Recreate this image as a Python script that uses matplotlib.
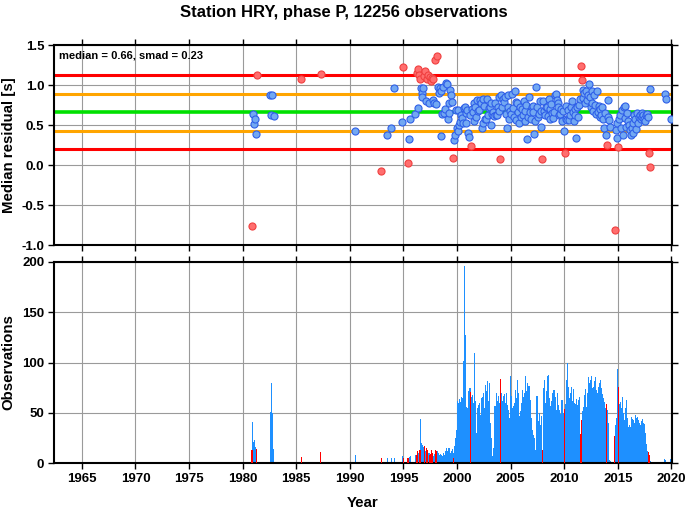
import numpy as np
import matplotlib
matplotlib.use("Agg")
import matplotlib.pyplot as plt
from matplotlib.ticker import FormatStrFormatter

plt.rcParams["font.family"] = ["Liberation Sans", "DejaVu Sans"]
plt.rcParams["font.weight"] = "bold"

station, phase, n_obs = "HRY", "P", 12256
median, smad = 0.66, 0.23
flag_lo, flag_hi = 0.28, 1.035   # bins drawn red outside this band

nan = np.nan

# sparse early bins: decimal year, median residual, number of picks
early_year = [1980.87, 1980.96, 1981.04, 1981.12, 1981.21, 1981.30,
              1982.58, 1982.67, 1982.75, 1982.88, 1985.47, 1987.27,
              1990.50, 1992.93, 1993.51, 1993.85, 1994.16, 1994.88,
              1994.98, 1995.42, 1995.53, 1995.62, 1996.12, 1996.23,
              1996.31, 1996.39, 1996.48, 1996.56, 1996.62, 1996.70,
              1996.77, 1996.85, 1996.92, 1997.00, 1997.08, 1997.16,
              1997.27, 1997.38, 1997.47, 1997.55, 1997.63, 1997.71,
              1997.80, 1997.89, 1997.98, 1998.06, 1998.12, 1998.20,
              1998.29, 1998.38, 1998.46, 1998.54, 1998.63, 1998.71,
              1998.79, 1998.88, 1998.96]
early_resid = [-0.76, 0.64, 0.51, 0.57, 0.39, 1.13,
               0.87, 0.63, 0.88, 0.61, 1.07, 1.14,
               0.42, -0.08, 0.37, 0.46, 0.96, 0.54,
               1.22, 0.03, 0.33, 0.58, 0.64, 1.15,
               1.20, 0.71, 1.13, 1.07, 0.96, 0.90,
               0.85, 0.96, 1.11, 1.17, 0.80, 1.08,
               1.12, 0.78, 1.10, 1.05, 1.09, 1.07,
               0.81, 0.78, 1.31, 0.76, 1.36, 0.98,
               0.90, 0.96, 0.36, 0.92, 0.64, 0.98,
               0.65, 0.70, 1.02]
early_count = [13, 41, 21, 23, 16, 14,
               51, 80, 50, 14, 6, 11,
               8, 5, 5, 5, 5, 7,
               5, 5, 6, 7, 8, 8,
               12, 10, 13, 13, 44, 20,
               18, 16, 17, 16, 12, 15,
               13, 10, 8, 9, 13, 10,
               7, 9, 13, 10, 12, 12,
               10, 8, 9, 8, 7, 10,
               8, 10, 12]

# monthly bins from 1999 on, one row per year
monthly_first_year = 1999
monthly_resid = [
    [1.01, 0.58, 0.65, 0.77, 0.94, 0.87, 0.79, 0.09, 0.31, 0.38, 0.69, 0.46],
    [0.42, 0.69, 0.50, 0.54, 0.63, 0.59, 0.53, 0.71, 0.73, 0.65, 0.52, 0.69],
    [0.40, 0.35, 0.62, 0.24, 0.70, 0.66, 0.55, 0.78, 0.73, 0.60, 0.81, 0.68],
    [0.69, 0.81, 0.77, 0.46, 0.82, 0.53, 0.74, 0.57, 0.58, 0.83, 0.62, 0.71],
    [0.73, 0.50, 0.77, 0.64, 0.66, 0.61, 0.77, 0.63, 0.62, 0.72, 0.85, 0.68],
    [0.08, 0.87, 0.72, 0.83, 0.79, 0.85, 0.64, 0.46, 0.73, 0.88, 0.58, 0.67],
    [0.64, 0.89, 0.71, 0.60, 0.92, 0.56, 0.79, 0.77, 0.66, 0.52, 0.73, 0.60],
    [0.70, 0.62, 0.80, 0.55, 0.68, 0.75, 0.32, 0.60, 0.85, 0.66, 0.58, 0.72],
    [0.74, 0.66, 0.39, 0.55, 0.98, 0.72, 0.60, 0.64, 0.80, 0.47, 0.68, 0.07],
    [0.80, 0.68, 0.63, 0.72, 0.73, 0.61, 0.83, 0.57, 0.70, 0.76, 0.65, 0.59],
    [0.66, 0.87, 0.89, 0.81, 0.77, 0.72, 0.62, 0.64, 0.70, 0.55, 0.68, 0.42],
    [0.15, 0.74, 0.58, 0.56, 0.69, 0.56, 0.62, 0.73, 0.80, 0.66, 0.55, 0.70],
    [0.63, 0.34, 0.72, 0.60, 0.75, 0.82, 1.24, 1.06, 0.94, 0.84, 0.90, 0.78],
    [0.93, 0.81, 0.88, 1.01, 0.85, 0.73, 0.92, 0.77, 0.68, 0.87, 0.75, 0.64],
    [0.92, 0.66, 0.74, 0.60, 0.70, 0.63, 0.72, 0.58, 0.46, 0.65, 0.38, 0.25],
    [0.81, 0.60, 0.56, 0.48, nan, nan, nan, nan, -0.81, 0.44, 0.52, 0.34],
    [0.23, 0.57, 0.63, 0.46, 0.69, 0.38, 0.72, 0.74, 0.59, 0.48, 0.65, 0.55],
    [0.50, 0.44, 0.38, 0.46, 0.40, 0.53, 0.63, 0.57, 0.45, 0.65, 0.52, 0.60],
    [0.62, 0.57, 0.65, 0.60, 0.63, 0.58, 0.55, 0.62, 0.64, 0.60, 0.15, -0.02],
    [0.95, nan, nan, nan, nan, nan, nan, nan, nan, nan, nan, nan],
    [nan, nan, nan, nan, 0.89, 0.82, nan, nan, nan, nan, nan, 0.57],
]
monthly_count = [
    [15, 12, 15, 15, 10, 12, 14, 5, 10, 17, 25, 33],
    [62, 60, 64, 61, 66, 63, 65, 101, 196, 127, 56, 55],
    [72, 70, 75, 71, 66, 68, 60, 109, 62, 30, 55, 58],
    [58, 60, 48, 65, 66, 70, 55, 78, 67, 72, 82, 62],
    [80, 40, 25, 7, 15, 45, 57, 50, 70, 62, 67, 60],
    [84, 70, 62, 67, 55, 69, 60, 70, 58, 53, 45, 87],
    [67, 55, 40, 57, 60, 73, 65, 83, 70, 47, 52, 40],
    [60, 73, 66, 70, 87, 72, 80, 68, 77, 55, 63, 45],
    [33, 28, 25, 13, 10, 67, 55, 42, 50, 38, 47, 13],
    [75, 83, 60, 47, 72, 87, 88, 65, 57, 62, 70, 66],
    [73, 60, 66, 53, 70, 58, 53, 49, 60, 63, 55, 50],
    [54, 59, 83, 100, 76, 65, 59, 70, 76, 62, 74, 60],
    [59, 64, 58, 63, 60, 66, 29, 43, 52, 56, 68, 74],
    [56, 58, 70, 86, 80, 83, 87, 75, 76, 82, 86, 70],
    [73, 70, 76, 80, 83, 75, 69, 65, 61, 58, 55, 59],
    [53, 40, 3, 2, 0, 0, 0, 0, 27, 38, 45, 94],
    [76, 59, 61, 55, 39, 66, 50, 43, 55, 63, 45, 36],
    [36, 38, 36, 46, 44, 43, 40, 48, 45, 46, 42, 43],
    [40, 38, 42, 44, 40, 39, 30, 19, 15, 12, 11, 8],
    [2, 0, 0, 0, 0, 0, 0, 0, 0, 0, 0, 0],
    [0, 0, 0, 0, 4, 3, 0, 0, 0, 0, 0, 4],
]

# join the two parts
month_year = [monthly_first_year + i + (m + 0.5) / 12
              for i in range(len(monthly_resid)) for m in range(12)]
t = np.array(early_year + month_year)
res = np.array(early_resid + [v for row in monthly_resid for v in row])
cnt = np.array(early_count + [v for row in monthly_count for v in row])
has = ~np.isnan(res)
t, res, cnt = t[has], res[has], cnt[has]
bad = (res < flag_lo) | (res > flag_hi)

blue_fill, blue_edge = "#72a8f2", "#2f5fe8"
red_fill, red_edge = "#ff6e6e", "#f04040"

fig = plt.figure(figsize=(6.88, 5.11), dpi=100)
W, H = 688, 511
ax1 = fig.add_axes([54 / W, 1 - 245 / H, 618 / W, 200 / H])
ax2 = fig.add_axes([54 / W, 1 - 463 / H, 618 / W, 201 / H])

xticks = np.arange(1965, 2021, 5)
for ax in (ax1, ax2):
    ax.set_xlim(1962.4, 2020.05)
    ax.set_xticks(xticks)
    ax.grid(True, color="#9a9a9a", lw=0.8)
    ax.set_axisbelow(True)
    ax.tick_params(direction="out", length=4, width=1, top=True, right=True,
                   labelsize=9.5, pad=3)
    for s in ax.spines.values():
        s.set_linewidth(1.5)

# residual panel
ax1.axhline(median + 2 * smad, color="#ff0000", lw=2.2, zorder=2)
ax1.axhline(median - 2 * smad, color="#ff0000", lw=2.2, zorder=2)
ax1.axhline(median + smad, color="#ffa500", lw=2.2, zorder=2)
ax1.axhline(median - smad, color="#ffa500", lw=2.2, zorder=2)
ax1.axhline(median, color="#00e000", lw=2.6, zorder=2)
ax1.scatter(t[~bad], res[~bad], s=26, c=blue_fill, edgecolors=blue_edge,
            linewidths=0.8, zorder=3)
ax1.scatter(t[bad], res[bad], s=26, c=red_fill, edgecolors=red_edge,
            linewidths=0.8, zorder=3)
ax1.set_ylim(-1.0, 1.5)
ax1.set_yticks(np.arange(-1.0, 1.51, 0.5))
ax1.yaxis.set_major_formatter(FormatStrFormatter("%.1f"))
ax1.tick_params(labelbottom=False)
ax1.set_ylabel("Median residual [s]", fontsize=10.8, fontweight="bold")
ax1.yaxis.set_label_coords(-0.062, 0.5)
ax1.text(0.008, 0.975, f"median = {median:.2f}, smad = {smad:.2f}",
         transform=ax1.transAxes, ha="left", va="top", fontsize=8,
         fontweight="bold")

# observation counts
ax2.bar(t[~bad], cnt[~bad], width=0.1, color="#1e90ff", lw=0, zorder=2)
ax2.bar(t[bad], cnt[bad], width=0.1, color="#ff0000", lw=0, zorder=3)
ax2.set_ylim(0, 200)
ax2.set_yticks(np.arange(0, 201, 50))
ax2.set_xlabel("Year", fontsize=10.8, fontweight="bold", labelpad=8)
ax2.set_ylabel("Observations", fontsize=10.8, fontweight="bold")
ax2.yaxis.set_label_coords(-0.062, 0.5)

fig.text(0.5, 1 - 12 / H, f"Station {station}, phase {phase}, {n_obs} observations",
         ha="center", va="center", fontsize=12, fontweight="bold")

fig.savefig("out.png", dpi=100)
